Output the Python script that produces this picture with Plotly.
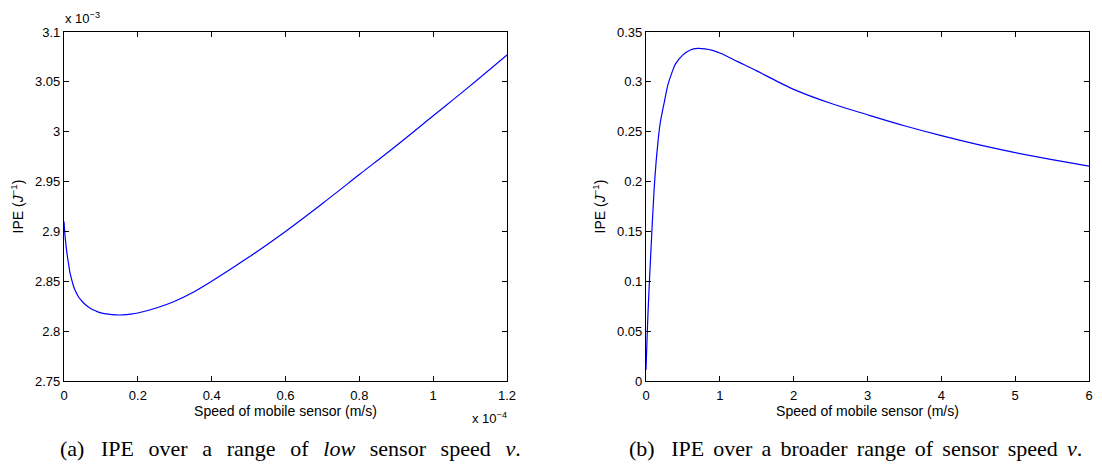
import plotly.graph_objects as go

# ---- data ----
# left panel: x in m/s (x 1e-4), y in J^-1 (x 1e-3)
low_speed_e4 = [0, 0.002, 0.004, 0.007, 0.01, 0.013, 0.016, 0.02, 0.025, 0.03, 0.04, 0.05, 0.06,
                0.07, 0.08, 0.09, 0.1, 0.12, 0.14, 0.16, 0.18, 0.2, 0.25, 0.3, 0.35, 0.4, 0.5,
                0.6, 0.7, 0.8, 0.9, 1.0, 1.1, 1.2]
low_ipe_e3 = [2.910, 2.899, 2.891, 2.881, 2.873, 2.866, 2.859, 2.853, 2.846, 2.841, 2.834, 2.8295,
              2.826, 2.8232, 2.8212, 2.8196, 2.8184, 2.8170, 2.8163, 2.8163, 2.8170, 2.8182, 2.8232,
              2.8300, 2.8390, 2.8500, 2.874, 2.900, 2.928, 2.957, 2.986, 3.016, 3.046, 3.077]

# right panel
broad_speed = [0, 0.02, 0.045, 0.07, 0.09, 0.11, 0.135, 0.16, 0.18, 0.2, 0.226, 0.25, 0.3, 0.35,
               0.4, 0.5, 0.6, 0.7, 0.8, 0.9, 1.0, 1.25, 1.5, 1.75, 2.0, 2.5, 3.0, 3.5, 4.0,
               4.5, 5.0, 5.5, 6.0]
broad_ipe = [0.011, 0.055, 0.098, 0.136, 0.165, 0.192, 0.218, 0.238, 0.252, 0.262, 0.272, 0.2805,
             0.298, 0.309, 0.318, 0.327, 0.332, 0.3335, 0.333, 0.3315, 0.329, 0.320, 0.311, 0.3015,
             0.2925, 0.2785, 0.267, 0.256, 0.246, 0.237, 0.229, 0.222, 0.2155]

left_xticks = [0, 0.2, 0.4, 0.6, 0.8, 1.0, 1.2]
left_xticktext = ["0", "0.2", "0.4", "0.6", "0.8", "1", "1.2"]
left_yticks = [2.75, 2.8, 2.85, 2.9, 2.95, 3.0, 3.05, 3.1]
left_yticktext = ["2.75", "2.8", "2.85", "2.9", "2.95", "3", "3.05", "3.1"]
right_xticks = [0, 1, 2, 3, 4, 5, 6]
right_yticks = [0, 0.05, 0.1, 0.15, 0.2, 0.25, 0.3, 0.35]
right_yticktext = ["0", "0.05", "0.1", "0.15", "0.2", "0.25", "0.3", "0.35"]

x_title = "Speed of mobile sensor (m/s)"
y_title = "IPE (<i>J</i><sup>−1</sup>)"
cap_a_words = ["(a)", "IPE", "over", "a", "range", "of", "<i>low</i>", "sensor", "speed", "<i>v</i>."]
cap_b_words = ["(b)", "IPE", "over", "a", "broader", "range", "of", "sensor", "speed", "<i>v</i>."]
gap_a = "&nbsp;&nbsp;&#8198;"
gap_b = "&nbsp;&#8198;"
cap_a = cap_a_words[0] + "&nbsp;&nbsp;&nbsp;" + gap_a.join(cap_a_words[1:])
cap_b = cap_b_words[0] + "&nbsp;&nbsp;&nbsp;" + gap_b.join(cap_b_words[1:])

W, H = 1102, 472
sans = "Liberation Sans, Arial, sans-serif"
serif = "Liberation Serif, Times New Roman, serif"

fig = go.Figure()
fig.add_trace(go.Scatter(x=[v * 1e-4 for v in low_speed_e4], y=[v * 1e-3 for v in low_ipe_e3],
                         mode="lines", line=dict(color="#0000ff", width=1.2, shape="spline", smoothing=1),
                         xaxis="x", yaxis="y", showlegend=False, hoverinfo="skip"))
fig.add_trace(go.Scatter(x=broad_speed, y=broad_ipe,
                         mode="lines", line=dict(color="#0000ff", width=1.2, shape="spline", smoothing=1),
                         xaxis="x2", yaxis="y2", showlegend=False, hoverinfo="skip"))


def px(x):
    return x / W


def py(y):
    return 1 - y / H


axis_common = dict(showgrid=False, zeroline=False, showline=True, linecolor="black", linewidth=1.3,
                   mirror="allticks", ticks="inside", ticklen=5, tickwidth=1, tickcolor="black",
                   tickfont=dict(family=sans, size=13, color="black"), fixedrange=True,
                   automargin=False)
title_font = dict(family=sans, size=14, color="black")

L0, L1 = 64, 507
R0, R1 = 646, 1089
T, B = 32, 381

fig.update_layout(
    width=W, height=H, margin=dict(l=0, r=0, t=0, b=0),
    paper_bgcolor="white", plot_bgcolor="white",
    xaxis=dict(domain=[px(L0), px(L1)], range=[0, 1.2e-4], tickvals=[v * 1e-4 for v in left_xticks],
               ticktext=left_xticktext, anchor="y", ticklabelstandoff=2,
               title=dict(text=x_title, font=title_font, standoff=4),
               **axis_common),
    yaxis=dict(domain=[py(B), py(T)], range=[2.75e-3, 3.1e-3], tickvals=[v * 1e-3 for v in left_yticks],
               ticktext=left_yticktext, anchor="x",
               title=dict(text=y_title, font=title_font, standoff=8),
               **axis_common),
    xaxis2=dict(domain=[px(R0), px(R1)], range=[0, 6], tickvals=right_xticks, anchor="y2",
                ticklabelstandoff=2,
                title=dict(text=x_title, font=title_font, standoff=4),
                **axis_common),
    yaxis2=dict(domain=[py(B), py(T)], range=[0, 0.35], tickvals=right_yticks, ticktext=right_yticktext,
                anchor="x2",
                title=dict(text=y_title, font=title_font, standoff=8),
                **axis_common),
)

annos = [
    dict(text="x 10<sup>−3</sup>", x=px(L0 - 1), y=py(T - 4), xanchor="left", yanchor="bottom",
         font=dict(family=sans, size=13, color="black")),
    dict(text="x 10<sup>−4</sup>", x=px(L1 + 2), y=py(B + 27), xanchor="right", yanchor="top",
         font=dict(family=sans, size=13, color="black")),
    dict(text=cap_a, x=px(58), y=py(448), xanchor="left", yanchor="middle",
         font=dict(family=serif, size=22, color="black")),
    dict(text=cap_b, x=px(627), y=py(448), xanchor="left", yanchor="middle",
         font=dict(family=serif, size=22, color="black")),
]
for a in annos:
    fig.add_annotation(xref="paper", yref="paper", showarrow=False, **a)

fig.write_html("out.html")
